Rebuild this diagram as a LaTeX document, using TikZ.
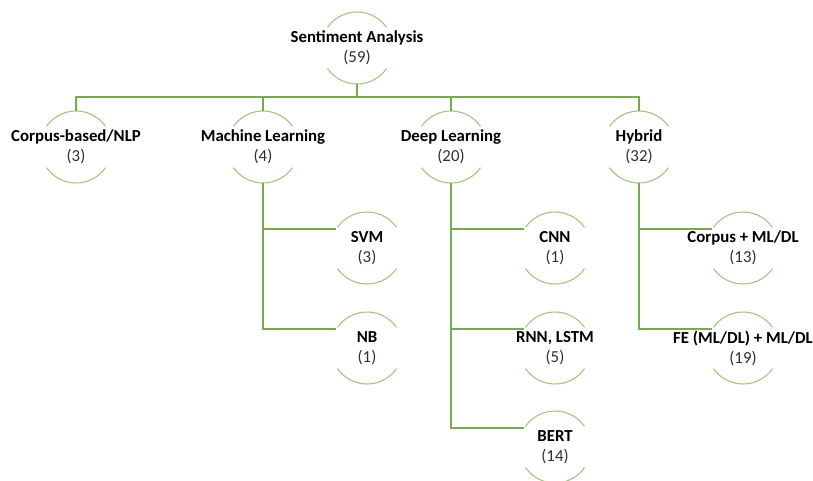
\documentclass[tikz,border=0pt]{standalone}
\usepackage{fontspec}
\setmainfont{Carlito}
\usetikzlibrary{calc}

\definecolor{linkgreen}{RGB}{118,170,78}
\definecolor{ringgreen}{RGB}{160,198,128}
\definecolor{countgray}{RGB}{45,45,58}

\tikzset{
  title/.style={align=center,inner sep=0pt,font=\fontsize{16.8}{20}\selectfont},
  link/.style={draw=linkgreen,line width=1.5pt},
  ring/.style={draw=ringgreen,line width=1.1pt}
}
\newcommand{\cnt}[1]{\textcolor{countgray}{(#1)}}

\begin{document}
\begin{tikzpicture}[x=1pt,y=-1pt]
        \useasboundingbox (0,0) rectangle (813,481);

        \node[title] (root) at (357,48) {\textbf{Sentiment Analysis}\\\cnt{59}};

        \node[title] (cbn) at (76,147) {\textbf{Corpus-based/NLP}\\\cnt{3}};
        \node[title] (ml) at (263,147) {\textbf{Machine Learning}\\\cnt{4}};
        \node[title] (dl) at (451,147) {\textbf{Deep Learning}\\\cnt{20}};
        \node[title] (hyb) at (639,147) {\textbf{Hybrid}\\\cnt{32}};

        \node[title] (svm) at (367,248) {\textbf{SVM}\\\cnt{3}};
        \node[title] (nb) at (367,348) {\textbf{NB}\\\cnt{1}};
        \node[title] (cnn) at (555,248) {\textbf{CNN}\\\cnt{1}};
        \node[title] (rnn) at (555,348) {\textbf{RNN, LSTM}\\\cnt{5}};
        \node[title] (bert) at (555,447) {\textbf{BERT}\\\cnt{14}};
        \node[title] (cml) at (743,248) {\textbf{Corpus + ML/DL}\\\cnt{13}};
        \node[title] (fe) at (743,348) {\textbf{FE (ML/DL) + ML/DL}\\\cnt{19}};

        \foreach \n in {root,cbn,ml,dl,hyb,svm,nb,cnn,rnn,bert,cml,fe} {
          \draw[ring] ([shift={(35:36pt)}]\n.center) arc[start angle=35,end angle=145,radius=36pt];
          \draw[ring] ([shift={(215:36pt)}]\n.center) arc[start angle=215,end angle=325,radius=36pt];
        }

        \foreach \c in {cbn,ml,dl,hyb}
          \draw[link] ([yshift=-36pt]root.center) -- ++(0,-13pt) -| ([yshift=36pt]\c.center);

        \draw[link] ([yshift=-36pt]ml.center) |- ([shift={(148:36pt)}]svm.center);
        \draw[link] ([yshift=-36pt]ml.center) |- ([shift={(148:36pt)}]nb.center);
        \draw[link] ([yshift=-36pt]dl.center) |- ([shift={(148:36pt)}]cnn.center);
        \draw[link] ([yshift=-36pt]dl.center) |- ([shift={(148:36pt)}]rnn.center);
        \draw[link] ([yshift=-36pt]dl.center) |- ([shift={(148:36pt)}]bert.center);
        \draw[link] ([yshift=-36pt]hyb.center) |- ([shift={(148:36pt)}]cml.center);
        \draw[link] ([yshift=-36pt]hyb.center) |- ([shift={(148:36pt)}]fe.center);
      \end{tikzpicture}
\end{document}
